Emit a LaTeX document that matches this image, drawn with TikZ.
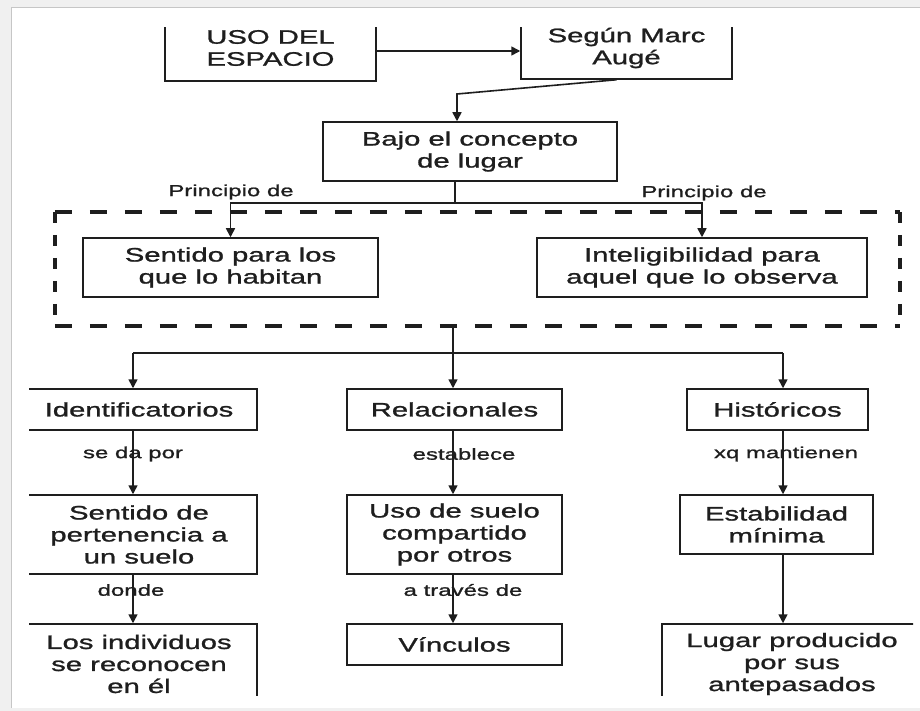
\documentclass[tikz,border=0pt]{standalone}
\usepackage{fontspec}
\setmainfont{Liberation Sans}[FakeStretch=1.5,FakeBold=1.2]
\usetikzlibrary{arrows.meta}
\definecolor{ink}{HTML}{1E1E1E}
\tikzset{
  box/.style={draw=ink, line width=1.5pt, inner sep=0pt, align=center, text=ink,
    font=\fontsize{19.5}{22}\selectfont},
  lbl/.style={inner sep=0pt, text=ink, font=\fontsize{16}{18}\selectfont},
  arr/.style={draw=ink, line width=1.6pt, -{Triangle[width=9pt,length=9pt]}},
  con/.style={draw=ink, line width=1.6pt},
  frameside/.style={draw=ink, line width=3.5pt},
}
\begin{document}
\begin{tikzpicture}[x=1pt,y=-1pt]
\useasboundingbox (0,0) rectangle (920,711);
\fill[gray!12] (0,0) rectangle (920,711);
\fill[white] (11,8) rectangle (920,708);
\draw[gray!45, line width=1pt] (11,708) -- (11,8) -- (920,8);
\begin{scope}
\clip (29,28) rectangle (913,695);
% top boxes
\node[box, minimum width=211pt, minimum height=66pt] (uso) at (270.5,48) {USO DEL\\ESPACIO};
\node[box, minimum width=211pt, minimum height=62pt] (segun) at (626.5,48) {Según Marc\\Augé};
\node[box, minimum width=294pt, minimum height=59pt] (bajo) at (470,151.5) {Bajo el concepto\\de lugar};
\node[lbl] (p1) at (231,192) {Principio de};
\node[lbl] (p2) at (704,193) {Principio de};
\node[box, minimum width=295pt, minimum height=59pt] (sent) at (230.5,267.5) {Sentido para los\\que lo habitan};
\node[box, minimum width=330pt, minimum height=59pt] (intel) at (702,267.5) {Inteligibilidad para\\aquel que lo observa};
% dashed group frame
\node[minimum width=845pt, minimum height=114pt, inner sep=0pt] (grp) at (477.5,269) {};
\draw[frameside, dash pattern=on 17pt off 18pt] (grp.north west) -- (grp.north east);
\draw[frameside, dash pattern=on 17pt off 18pt] (grp.south west) -- (grp.south east);
\draw[frameside, dash pattern=on 11pt off 12pt] (grp.north west) -- (grp.south west);
\draw[frameside, dash pattern=on 11pt off 12pt] (grp.north east) -- (grp.south east);
% lower boxes
\node[box, minimum width=236pt, minimum height=41pt] (ident) at (139,409.5) {Identificatorios};
\node[box, minimum width=236pt, minimum height=79pt] (pert) at (139,534.5) {Sentido de\\pertenencia a\\un suelo};
\node[box, minimum width=236pt, minimum height=80pt] (indiv) at (139,664) {Los individuos\\se reconocen\\en él};
\node[box, minimum width=215pt, minimum height=41pt] (relac) at (454.5,409.5) {Relacionales};
\node[box, minimum width=215pt, minimum height=79pt] (usos) at (454.5,534.5) {Uso de suelo\\compartido\\por otros};
\node[box, minimum width=215pt, minimum height=41pt] (vinc) at (454.5,644.5) {Vínculos};
\node[box, minimum width=181pt, minimum height=41pt] (hist) at (777.5,409.5) {Históricos};
\node[box, minimum width=193pt, minimum height=59pt] (estab) at (776.5,524.5) {Estabilidad\\mínima};
\node[box, minimum width=260pt, minimum height=80pt] (lugar) at (792,664) {Lugar producido\\por sus\\antepasados};
% connectors
\coordinate (k1) at (457,94);
\draw[arr] ([yshift=-3pt]uso.east) -- ([yshift=-3pt]uso.east -| segun.west);
\draw[arr] ([xshift=-10pt]segun.south) -- (k1) -- (k1 |- bajo.north);
\coordinate (j1) at (455,203);
\draw[con] (j1 |- bajo.south) -- (j1);
\draw[arr] (j1) -| (sent.north);
\draw[arr] (j1) -| (intel.north);
\coordinate (j2) at (453,353);
\coordinate (cA) at (133,353);
\coordinate (cC) at (783,353);
\draw[con] (j2 |- grp.south) -- (j2);
\draw[con] (cA) -- (cC);
\draw[arr] (cA) -- (cA |- ident.north);
\draw[arr] (j2) -- (j2 |- relac.north);
\draw[arr] (cC) -- (cC |- hist.north);
\draw[arr] (cA |- ident.south) -- (cA |- pert.north);
\draw[arr] (cA |- pert.south) -- (cA |- indiv.north);
\draw[arr] (j2 |- relac.south) -- (j2 |- usos.north);
\draw[arr] (j2 |- usos.south) -- (j2 |- vinc.north);
\draw[arr] (cC |- hist.south) -- (cC |- estab.north);
\draw[arr] (cC |- estab.south) -- (cC |- lugar.north);
% connector labels
\node[lbl] (l1) at (133,454) {se da por};
\node[lbl] (l2) at (131,590) {donde};
\node[lbl] (l3) at (464,454) {establece};
\node[lbl] (l4) at (463,590) {a través de};
\node[lbl] (l5) at (786,454) {xq mantienen};
\end{scope}
\end{tikzpicture}
\end{document}
